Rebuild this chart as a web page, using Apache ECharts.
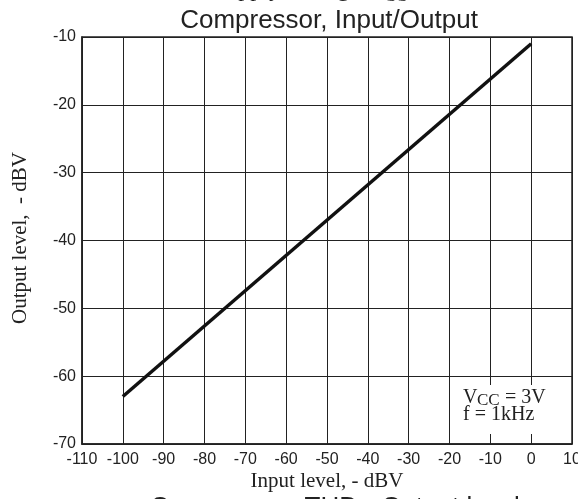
<!DOCTYPE html>
<html>
<head>
<meta charset="utf-8">
<script src="https://cdn.jsdelivr.net/npm/echarts@6/dist/echarts.min.js"></script>
<style>html,body{margin:0;padding:0;background:#fff;}#c{width:578px;height:499px;}</style>
</head>
<body>
<div id="c"></div>
<script>
const inputLevel = [-100, 0];
const outputLevel = [-63, -11];
const xTicks = { min: -110, max: 10, interval: 10 };
const yTicks = { min: -70, max: -10, interval: 10 };
const titleText = 'Compressor, Input/Output';
const xName = 'Input level, - dBV';
const yName = 'Output level,  - dBV';

const chart = echarts.init(document.getElementById('c'), null, { renderer: 'canvas' });
const lineData = inputLevel.map((x, i) => [x, outputLevel[i]]);
const axisLabelStyle = { color: '#222', fontFamily: 'Liberation Sans, Arial, sans-serif', fontSize: 16 };
const serif = '"Liberation Serif", "Times New Roman", serif';
const sans = '"Liberation Sans", Arial, sans-serif';
chart.setOption({
  animation: false,
  backgroundColor: '#fff',
  grid: { left: 82, right: 6, top: 37, bottom: 55, show: true, borderColor: '#222', borderWidth: 1.5,
          containLabel: false, outerBoundsMode: 'none' },
  xAxis: {
    type: 'value', min: xTicks.min, max: xTicks.max, interval: xTicks.interval,
    axisLine: { show: true, onZero: false, lineStyle: { color: '#222', width: 1.5 } },
    axisTick: { show: false },
    axisLabel: Object.assign({ margin: 8, hideOverlap: false, showMinLabel: true, showMaxLabel: true }, axisLabelStyle),
    splitLine: { show: true, lineStyle: { color: '#222', width: 1 } }
  },
  yAxis: {
    type: 'value', min: yTicks.min, max: yTicks.max, interval: yTicks.interval,
    axisLine: { show: true, onZero: false, lineStyle: { color: '#222', width: 1.5 } },
    axisTick: { show: false },
    axisLabel: Object.assign({ margin: 6 }, axisLabelStyle),
    splitLine: { show: true, lineStyle: { color: '#222', width: 1 } }
  },
  series: [{
    type: 'line', data: lineData, symbol: 'none',
    lineStyle: { color: '#111', width: 3.5, cap: 'butt' }, z: 5
  }],
  graphic: [
    { type: 'text', x: 213, y: -22, style: { text: 'Supply Voltage, V', font: '24px ' + serif, fill: '#222', textAlign: 'left', textVerticalAlign: 'top' } },
    { type: 'text', x: 384, y: -12, style: { text: 'CC', font: '17px ' + serif, fill: '#222', textAlign: 'left', textVerticalAlign: 'top' } },
    { type: 'text', x: 329, y: 8, style: { text: titleText, font: '26px ' + sans, fill: '#222', textAlign: 'center', textVerticalAlign: 'top' } },
    { type: 'text', x: 327, y: 471, style: { text: xName, font: '21px ' + serif, fill: '#222', textAlign: 'center', textVerticalAlign: 'top' } },
    { type: 'text', x: 20, y: 238, rotation: Math.PI / 2, style: { text: yName, font: '21px ' + serif, fill: '#222', textAlign: 'center', textVerticalAlign: 'middle' } },
    { type: 'text', x: 150, y: 495, style: { text: 'Compressor, THD - Output level', font: '26px ' + sans, fill: '#222', textAlign: 'left', textVerticalAlign: 'top' } },
    { type: 'rect', shape: { x: 455, y: 385, width: 116, height: 49 }, style: { fill: '#fff' }, z: 10 },
    { type: 'text', x: 463, y: 388, z: 11, style: { text: 'V', font: '20px ' + serif, fill: '#222', textVerticalAlign: 'top' } },
    { type: 'text', x: 477, y: 392, z: 11, style: { text: 'CC', font: '17px ' + serif, fill: '#222', textVerticalAlign: 'top' } },
    { type: 'text', x: 500, y: 388, z: 11, style: { text: ' = 3V', font: '20px ' + serif, fill: '#222', textVerticalAlign: 'top' } },
    { type: 'text', x: 463, y: 405, z: 11, style: { text: 'f = 1kHz', font: '20px ' + serif, fill: '#222', textVerticalAlign: 'top' } }
  ]
});
</script>
</body>
</html>
